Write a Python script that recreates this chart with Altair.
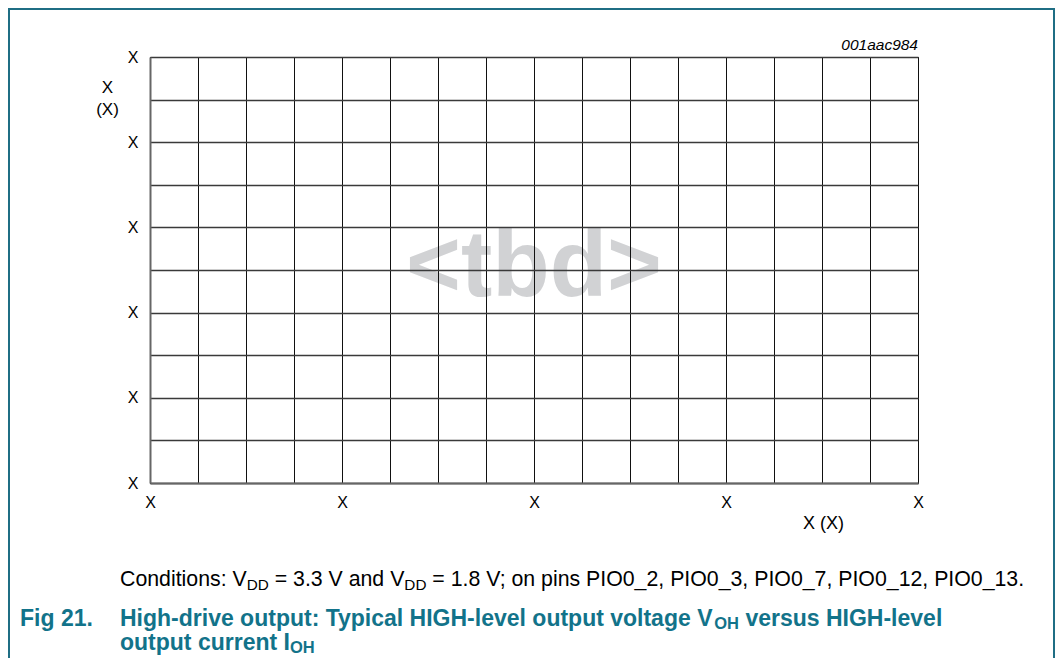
import altair as alt
import pandas as pd

# ---------------- data ----------------
x_grid = list(range(17))          # 16 grid columns
y_grid = list(range(11))          # 10 grid rows
x_label_step = 4
y_label_step = 2
tick_text = "X"
x_title = "X (X)"
y_title = ["X", "(X)"]
fig_code = "001aac984"
watermark = "<tbd>"
watermark_pos = {"x": [8], "y": [4.4]}

caption_runs = [("Conditions: V", False), ("DD", True), (" = 3.3 V and V", False),
                ("DD", True), (" = 1.8 V; on pins PIO0_2, PIO0_3, PIO0_7, PIO0_12, PIO0_13.", False)]
title_num = "Fig 21."
title_line1 = [("High-drive output: Typical HIGH-level output voltage V", False), ("OH", True),
               (" versus HIGH-level", False)]
title_line2 = [("output current I", False), ("OH", True)]

# ---------------- styling ----------------
FONT = "Liberation Sans"
TEAL = "#12738a"
FRAME = "#1f6e84"
W, H = 768, 426
PAD = {"left": 142, "top": 49, "right": 137, "bottom": 175}

REG = {' ': 278, '!': 278, '(': 333, ')': 333, ',': 278, '-': 333, '.': 278, ':': 278, ';': 278,
       '=': 584, '<': 584, '>': 584, '_': 556,
       'A': 667, 'B': 667, 'C': 722, 'D': 722, 'E': 667, 'F': 611, 'G': 778, 'H': 722, 'I': 278,
       'J': 500, 'K': 667, 'L': 556, 'M': 833, 'N': 722, 'O': 778, 'P': 667, 'Q': 778, 'R': 722,
       'S': 667, 'T': 611, 'U': 722, 'V': 667, 'W': 944, 'X': 667, 'Y': 667, 'Z': 611,
       'a': 556, 'b': 556, 'c': 500, 'd': 556, 'e': 556, 'f': 278, 'g': 556, 'h': 556, 'i': 222,
       'j': 222, 'k': 500, 'l': 222, 'm': 833, 'n': 556, 'o': 556, 'p': 556, 'q': 556, 'r': 333,
       's': 500, 't': 278, 'u': 556, 'v': 500, 'w': 722, 'x': 500, 'y': 500, 'z': 500}
BOLD = dict(REG)
BOLD.update({':': 333, 'A': 722, 'B': 722, 'J': 556, 'K': 722, 'L': 611,
             'a': 556, 'b': 611, 'c': 556, 'd': 611, 'e': 556, 'f': 333, 'g': 611, 'h': 611,
             'i': 278, 'j': 278, 'k': 556, 'l': 278, 'm': 889, 'n': 611, 'o': 611, 'p': 611,
             'q': 611, 'r': 389, 's': 556, 't': 333, 'u': 611, 'v': 556, 'w': 778, 'x': 556,
             'y': 556, 'z': 500})
for d in '0123456789':
    REG[d] = 556
    BOLD[d] = 556


def runs_to_rows(runs, x0, y0, size, sub_size, bold, sub_dy):
    table = BOLD if bold else REG
    rows, x = [], x0
    for text, sub in runs:
        fs = sub_size if sub else size
        lead = len(text) - len(text.lstrip(' '))
        x += lead * table[' '] * fs / 1000.0          # SVG drops leading blanks
        body = text.lstrip(' ')
        rows.append({"t": body, "px": x, "py": y0 + (sub_dy if sub else 0), "fs": fs})
        x += sum(table.get(c, 556) for c in body) * fs / 1000.0
    return rows


CAP_SIZE, CAP_SUB = 21.3, 15.3
TIT_SIZE, TIT_SUB = 23, 16.5
caption_df = pd.DataFrame(runs_to_rows(caption_runs, -30, 529, CAP_SIZE, CAP_SUB, False, 4))
title_df = pd.DataFrame(
    [{"t": title_num, "px": -130, "py": 569, "fs": TIT_SIZE}]
    + runs_to_rows(title_line1, -30, 569, TIT_SIZE, TIT_SUB, True, 3)
    + runs_to_rows(title_line2, -30, 593, TIT_SIZE, TIT_SUB, True, 3)
)

one = pd.DataFrame({"a": [0]})

x_axis = alt.Axis(values=x_grid, labelExpr=f"datum.value % {x_label_step} == 0 ? '{tick_text}' : ''",
                  grid=True, gridColor="#111111", gridWidth=1, ticks=False,
                  domainColor="#666666", domainWidth=2, labelFont=FONT, labelFontSize=16,
                  labelColor="black", labelPadding=11, labelOverlap=False, labelFlush=False,
                  title=x_title, titleX=673, titleY=45, titleAlign="center",
                  titleBaseline="alphabetic", titleFont=FONT, titleFontSize=18,
                  titleFontWeight="normal", titleColor="black", zindex=1)
y_axis = alt.Axis(values=y_grid, labelExpr=f"datum.value % {y_label_step} == 0 ? '{tick_text}' : ''",
                  grid=True, gridColor="#3a3a3a", gridWidth=1.3, ticks=False,
                  domainColor="#666666", domainWidth=2, labelFont=FONT, labelFontSize=16,
                  labelColor="black", labelPadding=12, labelOverlap=False, labelFlush=False,
                  title=y_title, titleAngle=0, titleX=-43, titleY=35, titleAlign="center",
                  titleBaseline="alphabetic", titleFont=FONT, titleFontSize=17,
                  titleFontWeight="normal", titleColor="black", titleLineHeight=22, zindex=1)

base = alt.Chart(pd.DataFrame(watermark_pos)).mark_text(
    text=watermark, font=FONT, fontSize=94, fontWeight="bold", color="#d1d2d4",
    align="center", baseline="alphabetic"
).encode(
    x=alt.X("x:Q", scale=alt.Scale(domain=[x_grid[0], x_grid[-1]], nice=False, zero=False), axis=x_axis),
    y=alt.Y("y:Q", scale=alt.Scale(domain=[y_grid[0], y_grid[-1]], nice=False, zero=False), axis=y_axis),
)

code_text = alt.Chart(one).mark_text(
    text=fig_code, font=FONT, fontSize=15.5, fontStyle="italic", align="right",
    baseline="alphabetic", color="black"
).encode(x=alt.value(W), y=alt.value(-7))

caption = alt.Chart(caption_df).mark_text(
    font=FONT, align="left", baseline="alphabetic", color="black"
).encode(x=alt.X("px:Q", scale=None), y=alt.Y("py:Q", scale=None),
         text="t:N", size=alt.Size("fs:Q", scale=None))

title = alt.Chart(title_df).mark_text(
    font=FONT, fontWeight="bold", align="left", baseline="alphabetic", color=TEAL
).encode(x=alt.X("px:Q", scale=None), y=alt.Y("py:Q", scale=None),
         text="t:N", size=alt.Size("fs:Q", scale=None))

left_frame = alt.Chart(one).mark_rule(color=FRAME, strokeWidth=2).encode(
    x=alt.value(-141), y=alt.value(-49), y2=alt.value(H + PAD["bottom"]))
right_frame = alt.Chart(one).mark_rule(color=FRAME, strokeWidth=2).encode(
    x=alt.value(W + PAD["right"] - 1), y=alt.value(-49), y2=alt.value(H + PAD["bottom"]))
top_frame = alt.Chart(one).mark_rule(color=FRAME, strokeWidth=2).encode(
    x=alt.value(-142), x2=alt.value(W + PAD["right"]), y=alt.value(-48))

chart = alt.layer(base, code_text, caption, title, left_frame, right_frame, top_frame).properties(
    width=W, height=H, padding=PAD, autosize=alt.AutoSizeParams(type="none"),
    background="white"
).configure_view(stroke="black", strokeWidth=1)

chart.save("out.html", embed_options={"renderer": "svg", "actions": False})
